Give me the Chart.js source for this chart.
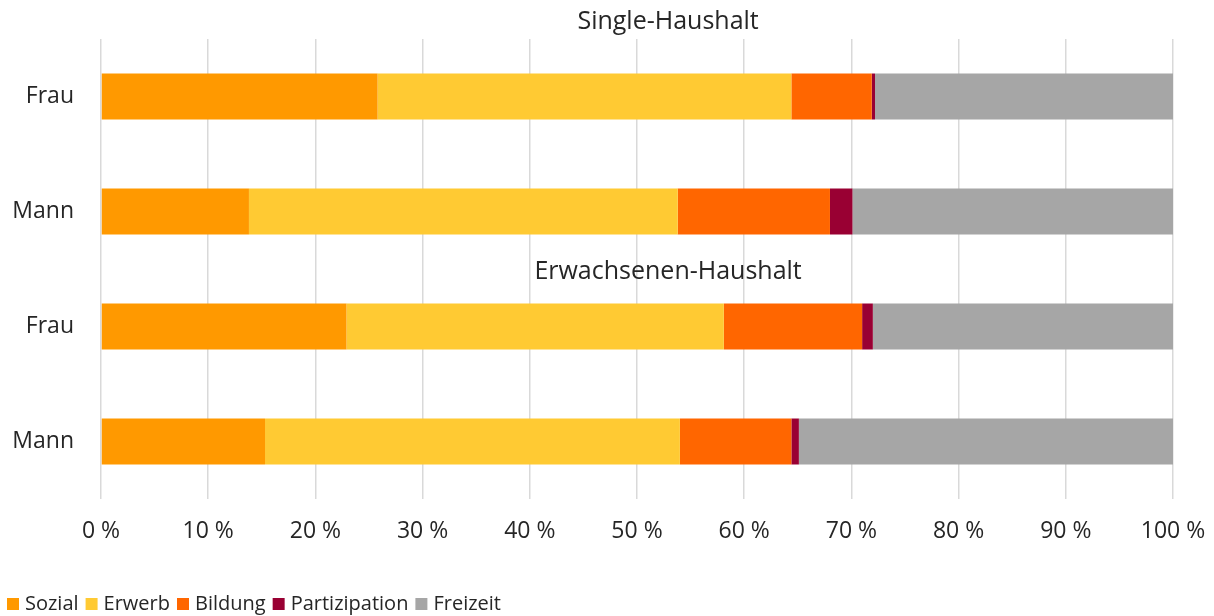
<!DOCTYPE html>
<html lang="de">
<head>
    <meta charset="UTF-8">
    <title>Zeitverwendung nach Haushaltstyp</title>
    <script src="https://cdn.jsdelivr.net/npm/chart.js"></script>
    <style>
        html, body { margin: 0; padding: 0; background: #fff; }
        #wrap { width: 1214px; height: 616px; }
    </style>
</head>
<body>
    <div id="wrap"><canvas id="timeChart" width="1214" height="616"></canvas></div>

    <script>
        // rows top to bottom: Single Frau, Single Mann, Erwachsenen Frau, Erwachsenen Mann
        const categories = ['Frau', 'Mann', 'Frau', 'Mann'];
        const groupTitles = ['Single-Haushalt', 'Erwachsenen-Haushalt'];

        const sozial        = [25.8, 13.8, 22.9, 15.3];
        const erwerb        = [38.6, 40.0, 35.2, 38.7];
        const bildung       = [7.5, 14.2, 12.9, 10.4];
        const partizipation = [0.3, 2.1, 1.0, 0.7];
        const freizeit      = [27.8, 29.9, 28.0, 34.9];

        const xTicks = [0, 10, 20, 30, 40, 50, 60, 70, 80, 90, 100];

        const FONT = "'Open Sans', 'Liberation Sans', sans-serif";
        Chart.defaults.font.family = FONT;
        Chart.defaults.font.size = 23;
        Chart.defaults.color = '#262626';

        // group headings above the first and the third bar
        const groupTitlePlugin = {
            id: 'groupTitles',
            afterDraw(chart) {
                const ctx = chart.ctx;
                const x = chart.scales.x.getPixelForValue(52.9);
                const y = chart.scales.y;
                ctx.save();
                ctx.font = '25px ' + FONT;
                ctx.fillStyle = '#262626';
                ctx.textAlign = 'center';
                ctx.textBaseline = 'middle';
                ctx.fillText(groupTitles[0], x, chart.chartArea.top - 17);
                ctx.fillText(groupTitles[1], x, y.getPixelForValue(1.5) + 3);
                ctx.restore();
            }
        };

        const nudgeLegend = {
            id: 'nudgeLegend',
            afterLayout(chart) {
                chart.legend.top += 8;
                chart.legend.bottom += 8;
            }
        };

        function makeSet(label, data, color) {
            return {
                label: label,
                data: data,
                backgroundColor: color,
                borderWidth: 0,
                categoryPercentage: 0.8,
                barPercentage: 0.5
            };
        }

        const ctx = document.getElementById('timeChart').getContext('2d');
        new Chart(ctx, {
            type: 'bar',
            data: {
                labels: categories,
                datasets: [
                    makeSet('Sozial', sozial, '#FF9900'),
                    makeSet('Erwerb', erwerb, '#FFCA33'),
                    makeSet('Bildung', bildung, '#FF6600'),
                    makeSet('Partizipation', partizipation, '#990033'),
                    makeSet('Freizeit', freizeit, '#A6A6A6')
                ]
            },
            options: {
                indexAxis: 'y',
                responsive: false,
                animation: false,
                layout: {
                    padding: { top: 39, right: 41, left: 0, bottom: 0 }
                },
                scales: {
                    x: {
                        stacked: true,
                        min: 0,
                        max: 100,
                        afterBuildTicks(scale) {
                            scale.ticks = xTicks.map(v => ({ value: v }));
                        },
                        afterFit(scale) {
                            scale.height = 76;
                            scale.paddingLeft = 0;
                            scale.paddingRight = 0;
                        },
                        grid: { color: '#D9D9D9', lineWidth: 1.5, drawTicks: false },
                        border: { display: false },
                        ticks: {
                            padding: 19,
                            maxRotation: 0,
                            callback: v => v + ' %'
                        }
                    },
                    y: {
                        stacked: true,
                        afterFit(scale) {
                            scale.width = 101;
                            scale.paddingTop = 0;
                            scale.paddingBottom = 0;
                        },
                        grid: { display: false, drawTicks: false },
                        border: { display: false },
                        ticks: { padding: 27 }
                    }
                },
                plugins: {
                    legend: {
                        position: 'bottom',
                        align: 'start',
                        labels: {
                            font: { size: 20 },
                            boxWidth: 4,
                            boxHeight: 4,
                            padding: 11,
                            generateLabels(chart) {
                                const items = Chart.defaults.plugins.legend.labels.generateLabels(chart);
                                items.forEach(it => {
                                    it.lineWidth = 8;
                                    it.strokeStyle = it.fillStyle;
                                });
                                return items;
                            }
                        }
                    },
                    tooltip: { enabled: false },
                    title: { display: false }
                }
            },
            plugins: [groupTitlePlugin, nudgeLegend]
        });
    </script>
</body>
</html>
